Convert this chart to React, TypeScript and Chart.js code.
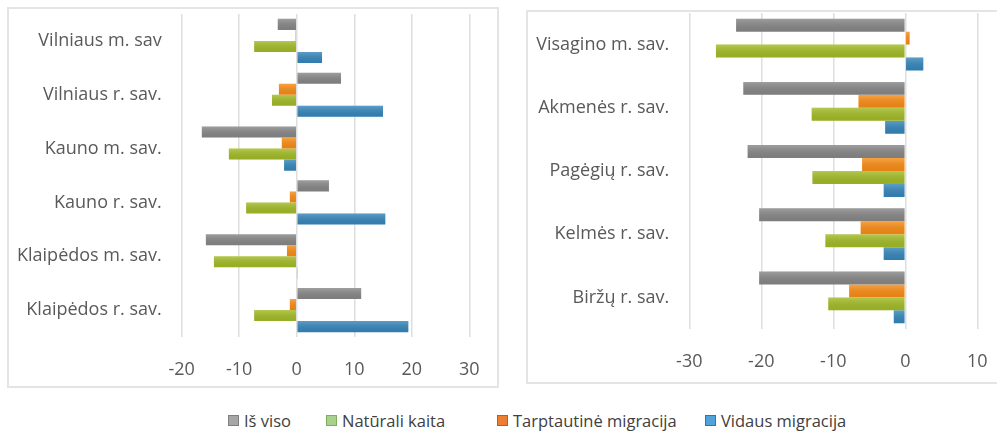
import React, { useEffect, useRef } from "react";
import { Chart, registerables } from "chart.js";

Chart.register(...registerables);

const seriesNames = ["Iš viso", "Tarptautinė migracija", "Natūrali kaita", "Vidaus migracija"];
const seriesColors = ["#878787", "#f98c14", "#a3bb25", "#3586bb"];

const leftCategories = [
  "Vilniaus m. sav",
  "Vilniaus r. sav.",
  "Kauno m. sav.",
  "Kauno r. sav.",
  "Klaipėdos m. sav.",
  "Klaipėdos r. sav.",
];
const leftTotal = [-3.3, 7.7, -16.5, 5.6, -15.8, 11.2];
const leftInternational = [-0.2, -3.1, -2.6, -1.2, -1.7, -1.2];
const leftNatural = [-7.4, -4.3, -11.8, -8.8, -14.4, -7.4];
const leftInternal = [4.4, 15.0, -2.2, 15.4, 0.1, 19.4];

const rightCategories = [
  "Visagino m. sav.",
  "Akmenės r. sav.",
  "Pagėgių r. sav.",
  "Kelmės r. sav.",
  "Biržų r. sav.",
];
const rightTotal = [-23.5, -22.5, -21.9, -20.3, -20.3];
const rightInternational = [0.6, -6.5, -6.0, -6.2, -7.8];
const rightNatural = [-26.3, -13.0, -12.9, -11.1, -10.7];
const rightInternal = [2.5, -2.8, -3.0, -3.0, -1.6];

const legendItems = [
  { label: "Iš viso", fill: "#a6a6a6", border: "#7f7f7f", left: 228 },
  { label: "Natūrali kaita", fill: "#a9d18e", border: "#7fae5a", left: 326 },
  { label: "Tarptautinė migracija", fill: "#ed7d31", border: "#c55a11", left: 497 },
  { label: "Vidaus migracija", fill: "#4ea3dc", border: "#2e75b6", left: 705 },
];

const FONT = "'Open Sans', sans-serif";

const shade = {
  id: "shade",
  afterDatasetsDraw(chart: any) {
    const ctx = chart.ctx;
    chart.data.datasets.forEach((_ds: any, i: number) => {
      const meta = chart.getDatasetMeta(i);
      meta.data.forEach((el: any) => {
        const p = el.getProps(["x", "y", "base", "height"], true);
        const l = Math.min(p.x, p.base);
        const w = Math.abs(p.x - p.base);
        const t = p.y - p.height / 2;
        const g = ctx.createLinearGradient(0, t, 0, t + p.height);
        g.addColorStop(0, "rgba(255,255,255,0.2)");
        g.addColorStop(1, "rgba(0,0,0,0.07)");
        ctx.save();
        ctx.fillStyle = g;
        ctx.fillRect(l, t, w, p.height);
        ctx.restore();
      });
    });
  },
};

type PanelProps = {
  categories: string[];
  series: number[][];
  min: number;
  max: number;
  yWidth: number;
  xHeight: number;
  padTop: number;
  padRight: number;
  style: React.CSSProperties;
  width: number;
  height: number;
};

const zeroPad = (s: any) => {
  s.paddingTop = 0;
  s.paddingBottom = 0;
  s.paddingLeft = 0;
  s.paddingRight = 0;
};

function Panel(props: PanelProps) {
  const ref = useRef<HTMLCanvasElement>(null);
  useEffect(() => {
    if (!ref.current) return;
    const chart = new Chart(ref.current, {
      type: "bar",
      data: {
        labels: props.categories,
        datasets: props.series.map((d, i) => ({
          label: seriesNames[i],
          data: d,
          backgroundColor: seriesColors[i],
          borderWidth: 0,
          categoryPercentage: 0.82,
          barPercentage: 1,
        })),
      },
      options: {
        indexAxis: "y",
        animation: false,
        responsive: false,
        maintainAspectRatio: false,
        layout: { padding: { top: props.padTop, right: props.padRight, left: 0, bottom: 0 } },
        plugins: { legend: { display: false }, tooltip: { enabled: false } },
        scales: {
          x: {
            min: props.min,
            max: props.max,
            ticks: { stepSize: 10, color: "#595959", font: { family: FONT, size: 18 }, padding: 22 },
            grid: { color: "#dedede", lineWidth: 1.5, drawTicks: false },
            border: { display: false },
            afterFit: (s: any) => {
              s.height = props.xHeight;
              zeroPad(s);
            },
          },
          y: {
            ticks: { color: "#595959", font: { family: FONT, size: 18 }, padding: 20 },
            grid: { display: false, drawTicks: false },
            border: { display: false },
            afterFit: (s: any) => {
              s.width = props.yWidth;
              zeroPad(s);
            },
          },
        },
      },
      plugins: [shade],
    });
    return () => chart.destroy();
  }, []);
  return (
    <div style={{ position: "absolute", border: "2px solid #e4e4e4", boxSizing: "border-box", ...props.style }}>
      <canvas ref={ref} width={props.width} height={props.height} style={{ display: "block", width: props.width, height: props.height }} />
    </div>
  );
}

export default function App() {
  return (
    <div style={{ position: "fixed", left: 0, top: 0, width: 997, height: 431, overflow: "hidden", background: "#fff" }}>
      <Panel
        categories={leftCategories}
        series={[leftTotal, leftInternational, leftNatural, leftInternal]}
        min={-20}
        max={30}
        yWidth={172.7}
        xHeight={49}
        padTop={5}
        padRight={27.7}
        width={488}
        height={377}
        style={{ left: 7, top: 7, width: 492, height: 381 }}
      />
      <Panel
        categories={rightCategories}
        series={[rightTotal, rightInternational, rightNatural, rightInternal]}
        min={-30}
        max={10}
        yWidth={161.3}
        xHeight={53}
        padTop={1}
        padRight={20.7}
        width={470}
        height={370}
        style={{ left: 526, top: 10, width: 500, height: 374 }}
      />
      {legendItems.map((it) => (
        <div
          key={it.label}
          style={{
            position: "absolute",
            left: it.left,
            top: 409,
            height: 22,
            display: "flex",
            alignItems: "center",
            fontFamily: FONT,
            fontSize: 16.5,
            color: "#404040",
            whiteSpace: "nowrap",
          }}
        >
          <span
            style={{
              display: "inline-block",
              width: 11,
              height: 11,
              background: it.fill,
              border: `1px solid ${it.border}`,
              boxSizing: "border-box",
              marginRight: 5,
            }}
          />
          {it.label}
        </div>
      ))}
    </div>
  );
}
